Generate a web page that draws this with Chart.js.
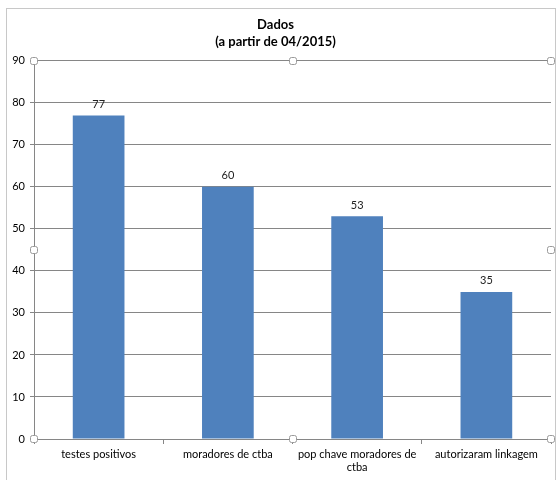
<!DOCTYPE html>
<html>
<head>
<meta charset="utf-8">
<script src="https://cdn.jsdelivr.net/npm/chart.js@4"></script>
<style>
  html, body { margin: 0; padding: 0; background: #fff; }
  #myChart { display: block; }
</style>
</head>
<body>
<canvas id="myChart" width="559" height="480"></canvas>
<script>
const categories = ['testes positivos', 'moradores de ctba', ['pop chave moradores de', 'ctba'], 'autorizaram linkagem'];
const values = [77, 60, 53, 35];
const yTicks = [0, 10, 20, 30, 40, 50, 60, 70, 80, 90];

const FONT = 'Lato, "Open Sans", sans-serif';
const GRID = '#868686';

// valores em cima das barras
const barLabels = {
  id: 'barLabels',
  afterDatasetsDraw(chart) {
    const c = chart.ctx;
    const meta = chart.getDatasetMeta(0);
    c.save();
    c.font = '11px ' + FONT;
    c.fillStyle = '#222';
    c.textAlign = 'center';
    c.textBaseline = 'middle';
    meta.data.forEach((bar, i) => {
      c.fillText(values[i], bar.x, bar.y - 11);
    });
    c.restore();
  }
};

// moldura do gráfico + alças de seleção
const frame = {
  id: 'frame',
  afterDraw(chart) {
    const c = chart.ctx;
    const a = chart.chartArea;
    c.save();
    c.strokeStyle = '#c8c8c8';
    c.lineWidth = 1;
    c.strokeRect(6.5, 8.5, 549, 480);
    const xm = Math.round((a.left + a.right) / 2), ym = Math.round((a.top + a.bottom) / 2);
    const pts = [[a.left, a.top], [xm, a.top], [a.right, a.top], [a.left, ym], [a.right, ym],
                 [a.left, a.bottom], [xm, a.bottom], [a.right, a.bottom]];
    c.fillStyle = '#fff';
    c.strokeStyle = '#9a9a9a';
    pts.forEach(p => {
      c.beginPath();
      c.roundRect(Math.round(p[0]) - 3.5, Math.round(p[1]) - 3.5, 7, 7, 2);
      c.fill();
      c.stroke();
    });
    c.restore();
  }
};

const ctx = document.getElementById('myChart');
new Chart(ctx, {
  type: 'bar',
  data: {
    labels: categories,
    datasets: [{
      data: values,
      backgroundColor: '#4F81BD',
      barPercentage: 0.4,
      categoryPercentage: 1
    }]
  },
  options: {
    responsive: false,
    animation: false,
    devicePixelRatio: 1,
    layout: { padding: { left: 0, right: 8, top: 0, bottom: 0 } },
    plugins: {
      legend: { display: false },
      tooltip: { enabled: false },
      title: {
        display: true,
        text: ['Dados', '(a partir de 04/2015)'],
        color: '#000',
        font: { family: FONT, size: 13, weight: 'bold', lineHeight: 1.3 },
        padding: { top: 16, bottom: 11 }
      }
    },
    scales: {
      x: {
        grid: { display: true, drawOnChartArea: false, offset: true, tickLength: 5, color: GRID },
        border: { color: GRID },
        ticks: { color: '#000', font: { family: FONT, size: 11 }, padding: 4, maxRotation: 0, autoSkip: false },
        afterFit(scale) { scale.height = 41; }
      },
      y: {
        min: 0,
        max: 90,
        afterBuildTicks(scale) { scale.ticks = yTicks.map(v => ({ value: v })); },
        grid: { color: GRID, tickLength: 4 },
        border: { color: GRID },
        ticks: { color: '#000', font: { family: FONT, size: 11 }, padding: 5 },
        afterFit(scale) { scale.width = 34; }
      }
    }
  },
  plugins: [barLabels, frame]
});
</script>
</body>
</html>
